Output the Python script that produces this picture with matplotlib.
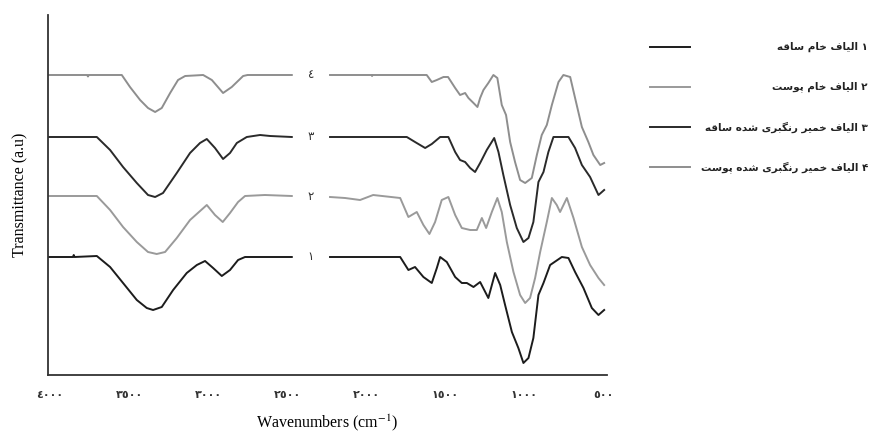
import matplotlib
matplotlib.use("Agg")
import matplotlib.pyplot as plt

plt.rcParams["mathtext.fontset"] = "stix"

# wavenumbers (cm-1) and transmittance (a.u.)
# each curve is drawn in two pieces: 4000-2470 and 2230-490
wn4_a = [4010, 3765, 3760, 3755, 3546, 3494, 3430, 3380, 3335, 3293, 3240, 3190, 3145, 3031,
         2976, 2905, 2850, 2778, 2750, 2470]
t4_a = [300, 300, 298.5, 300, 300, 288, 275, 267, 263, 267, 282, 295, 299, 300,
        295, 282, 288, 299, 300, 300]
wn4_b = [2228, 1965, 1962, 1958, 1616, 1584, 1552, 1510, 1481, 1436, 1405, 1373, 1352, 1320,
         1295, 1278, 1257, 1226, 1194, 1169, 1141, 1114, 1088, 1057, 1025, 993, 951, 919, 888,
         856, 824, 782, 751, 708, 677, 634, 593, 561, 518, 493]
t4_b = [300, 300, 299, 300, 300, 293, 295, 298, 298, 287, 280, 282, 277, 272,
        268, 277, 285, 292, 300, 297, 270, 260, 233, 213, 195, 192, 197, 220, 240,
        250, 270, 293, 300, 298, 277, 248, 233, 220, 210, 212]

wn3_a = [4010, 3704, 3620, 3538, 3451, 3380, 3335, 3285, 3198, 3114, 3051, 3008, 2956, 2905,
         2861, 2818, 2755, 2671, 2607, 2470]
t3_a = [238, 238, 225, 208, 192, 180, 178, 182, 202, 222, 232, 236, 227, 216,
        222, 232, 238, 240, 239, 238]
wn3_b = [2228, 1742, 1690, 1626, 1584, 1531, 1479, 1436, 1405, 1373, 1341, 1310, 1278, 1236,
         1189, 1162, 1131, 1088, 1046, 1004, 972, 941, 909, 877, 846, 814, 719, 677, 634, 582,
         529, 493]
t3_b = [238, 238, 233, 227, 231, 238, 238, 223, 215, 213, 207, 203, 212, 225,
        237, 223, 200, 170, 147, 133, 137, 153, 193, 203, 223, 238, 238, 227, 210, 198,
        180, 185]

wn2_a = [4010, 3704, 3620, 3538, 3451, 3380, 3325, 3272, 3198, 3114, 3008, 2956, 2907, 2861,
         2810, 2766, 2640, 2470]
t2_a = [179, 179, 165, 148, 133, 123, 121, 123, 137, 155, 170, 160, 153, 162,
        173, 179, 180, 179]
wn2_b = [2228, 2133, 2038, 1955, 1784, 1732, 1679, 1637, 1599, 1563, 1521, 1479, 1436, 1394,
         1341, 1299, 1267, 1240, 1204, 1169, 1141, 1109, 1067, 1025, 993, 962, 930, 898, 856,
         824, 793, 772, 729, 687, 634, 582, 529, 493]
t2_b = [178, 177, 175, 180, 177, 158, 163, 150, 141, 153, 175, 178, 160, 147,
        145, 145, 157, 147, 163, 177, 163, 133, 103, 80, 72, 77, 97, 123, 153,
        177, 170, 163, 177, 157, 128, 110, 97, 90]

wn1_a = [4010, 3855, 3850, 3845, 3704, 3620, 3538, 3451, 3388, 3348, 3293, 3221, 3135, 3071,
         3019, 2968, 2913, 2861, 2810, 2766, 2470]
t1_a = [118, 118, 120, 118, 119, 108, 92, 75, 67, 65, 68, 85, 102, 110,
        114, 107, 99, 105, 115, 118, 118]
wn1_b = [2228, 1784, 1732, 1690, 1637, 1584, 1552, 1531, 1489, 1436, 1394, 1362, 1320, 1278,
         1226, 1183, 1151, 1120, 1077, 1036, 1004, 972, 941, 909, 877, 835, 761, 719, 677, 624,
         571, 529, 493]
t1_b = [118, 118, 105, 108, 98, 92, 107, 118, 113, 98, 92, 92, 88, 93,
        77, 102, 90, 70, 43, 27, 12, 17, 37, 80, 92, 110, 118, 117, 103, 87,
        67, 60, 65]

curve_tags = ["١", "٢", "٣", "٤"]
tag_levels = [118, 178, 238, 300]
legend_labels = ["۱ الیاف خام ساقه", "۲ الیاف خام پوست",
                 "۳ الیاف خمیر رنگبری شده ساقه", "۴ الیاف خمیر رنگبری شده پوست"]
colors = ["#1c1c1c", "#9a9a9a", "#2a2a2a", "#8e8e8e"]

xticks = [4000, 3500, 3000, 2500, 2000, 1500, 1000, 500]
xtick_labels = ["٤٠٠٠", "٣٥٠٠", "٣٠٠٠", "٢٥٠٠", "٢٠٠٠", "١٥٠٠", "١٠٠٠", "٥٠٠"]

# matplotlib does no arabic shaping, so pick the joined forms by hand
FORMS = {
    "ا": ("\uFE8D", "\uFE8E", None, None),
    "ب": ("\uFE8F", "\uFE90", "\uFE91", "\uFE92"),
    "ت": ("\uFE95", "\uFE96", "\uFE97", "\uFE98"),
    "خ": ("\uFEA5", "\uFEA6", "\uFEA7", "\uFEA8"),
    "د": ("\uFEA9", "\uFEAA", None, None),
    "ر": ("\uFEAD", "\uFEAE", None, None),
    "س": ("\uFEB1", "\uFEB2", "\uFEB3", "\uFEB4"),
    "ش": ("\uFEB5", "\uFEB6", "\uFEB7", "\uFEB8"),
    "ف": ("\uFED1", "\uFED2", "\uFED3", "\uFED4"),
    "ق": ("\uFED5", "\uFED6", "\uFED7", "\uFED8"),
    "ل": ("\uFEDD", "\uFEDE", "\uFEDF", "\uFEE0"),
    "م": ("\uFEE1", "\uFEE2", "\uFEE3", "\uFEE4"),
    "ن": ("\uFEE5", "\uFEE6", "\uFEE7", "\uFEE8"),
    "ه": ("\uFEE9", "\uFEEA", "\uFEEB", "\uFEEC"),
    "و": ("\uFEED", "\uFEEE", None, None),
    "پ": ("\uFB56", "\uFB57", "\uFB58", "\uFB59"),
    "گ": ("\uFB92", "\uFB93", "\uFB94", "\uFB95"),
    "ی": ("\uFBFC", "\uFBFD", "\uFBFE", "\uFBFF"),
}


def shape_rtl(s):
    out = []
    for i, c in enumerate(s):
        if c not in FORMS:
            out.append(c)
            continue
        iso, fin, ini, med = FORMS[c]
        prev = s[i - 1] if i > 0 else None
        nxt = s[i + 1] if i + 1 < len(s) else None
        join_prev = prev in FORMS and FORMS[prev][2] is not None
        join_next = ini is not None and nxt in FORMS
        if join_prev and join_next:
            out.append(med)
        elif join_prev:
            out.append(fin)
        elif join_next:
            out.append(ini)
        else:
            out.append(iso)
    return "".join(reversed(out))


fig = plt.figure(figsize=(8.83, 4.41), dpi=100)
ax = fig.add_axes([48 / 883, 66 / 441, 559 / 883, 360 / 441])

series = [(wn1_a, t1_a, wn1_b, t1_b), (wn2_a, t2_a, wn2_b, t2_b),
          (wn3_a, t3_a, wn3_b, t3_b), (wn4_a, t4_a, wn4_b, t4_b)]
for (xa, ya, xb, yb), col in zip(series, colors):
    ax.plot(xa, ya, color=col, lw=1.4, solid_joinstyle="round")
    ax.plot(xb, yb, color=col, lw=1.4, solid_joinstyle="round")

for tag, lev in zip(curve_tags, tag_levels):
    ax.text(2350, lev, tag, ha="center", va="center", fontsize=8.5,
            family=["DejaVu Sans"], color="#333333")

ax.set_xlim(4013, 475)
ax.set_ylim(0, 360)
ax.set_xticks(xticks)
ax.set_xticklabels(xtick_labels, family=["DejaVu Sans"], fontsize=8,
                   fontweight="bold", color="#333333")
ax.tick_params(axis="x", length=0, pad=11)
ax.set_yticks([])
for side in ["top", "right"]:
    ax.spines[side].set_visible(False)
for side in ["left", "bottom"]:
    ax.spines[side].set_linewidth(1.3)
    ax.spines[side].set_color("#333333")

ax.set_xlabel("Wavenumbers (cm$^{-1}$)", family="Liberation Serif", fontsize=11.5, labelpad=9)
ax.set_ylabel("Transmittance (a.u)", family="Liberation Serif", fontsize=11.5, labelpad=14)

# legend drawn by hand: line on the left, right-aligned persian text
lax = fig.add_axes([620 / 883, 0, 263 / 883, 1])
lax.set_xlim(620, 883)
lax.set_ylim(441, 0)
lax.axis("off")
for k, (lab, col) in enumerate(zip(legend_labels, colors)):
    yy = 47 + k * 40
    lax.plot([650, 690], [yy, yy], color=col, lw=1.4)
    lax.text(868, yy, shape_rtl(lab), ha="right", va="center", fontsize=7.5,
             family=["DejaVu Sans"], fontweight="bold", color="#222222")

fig.savefig("out.png", dpi=100)
